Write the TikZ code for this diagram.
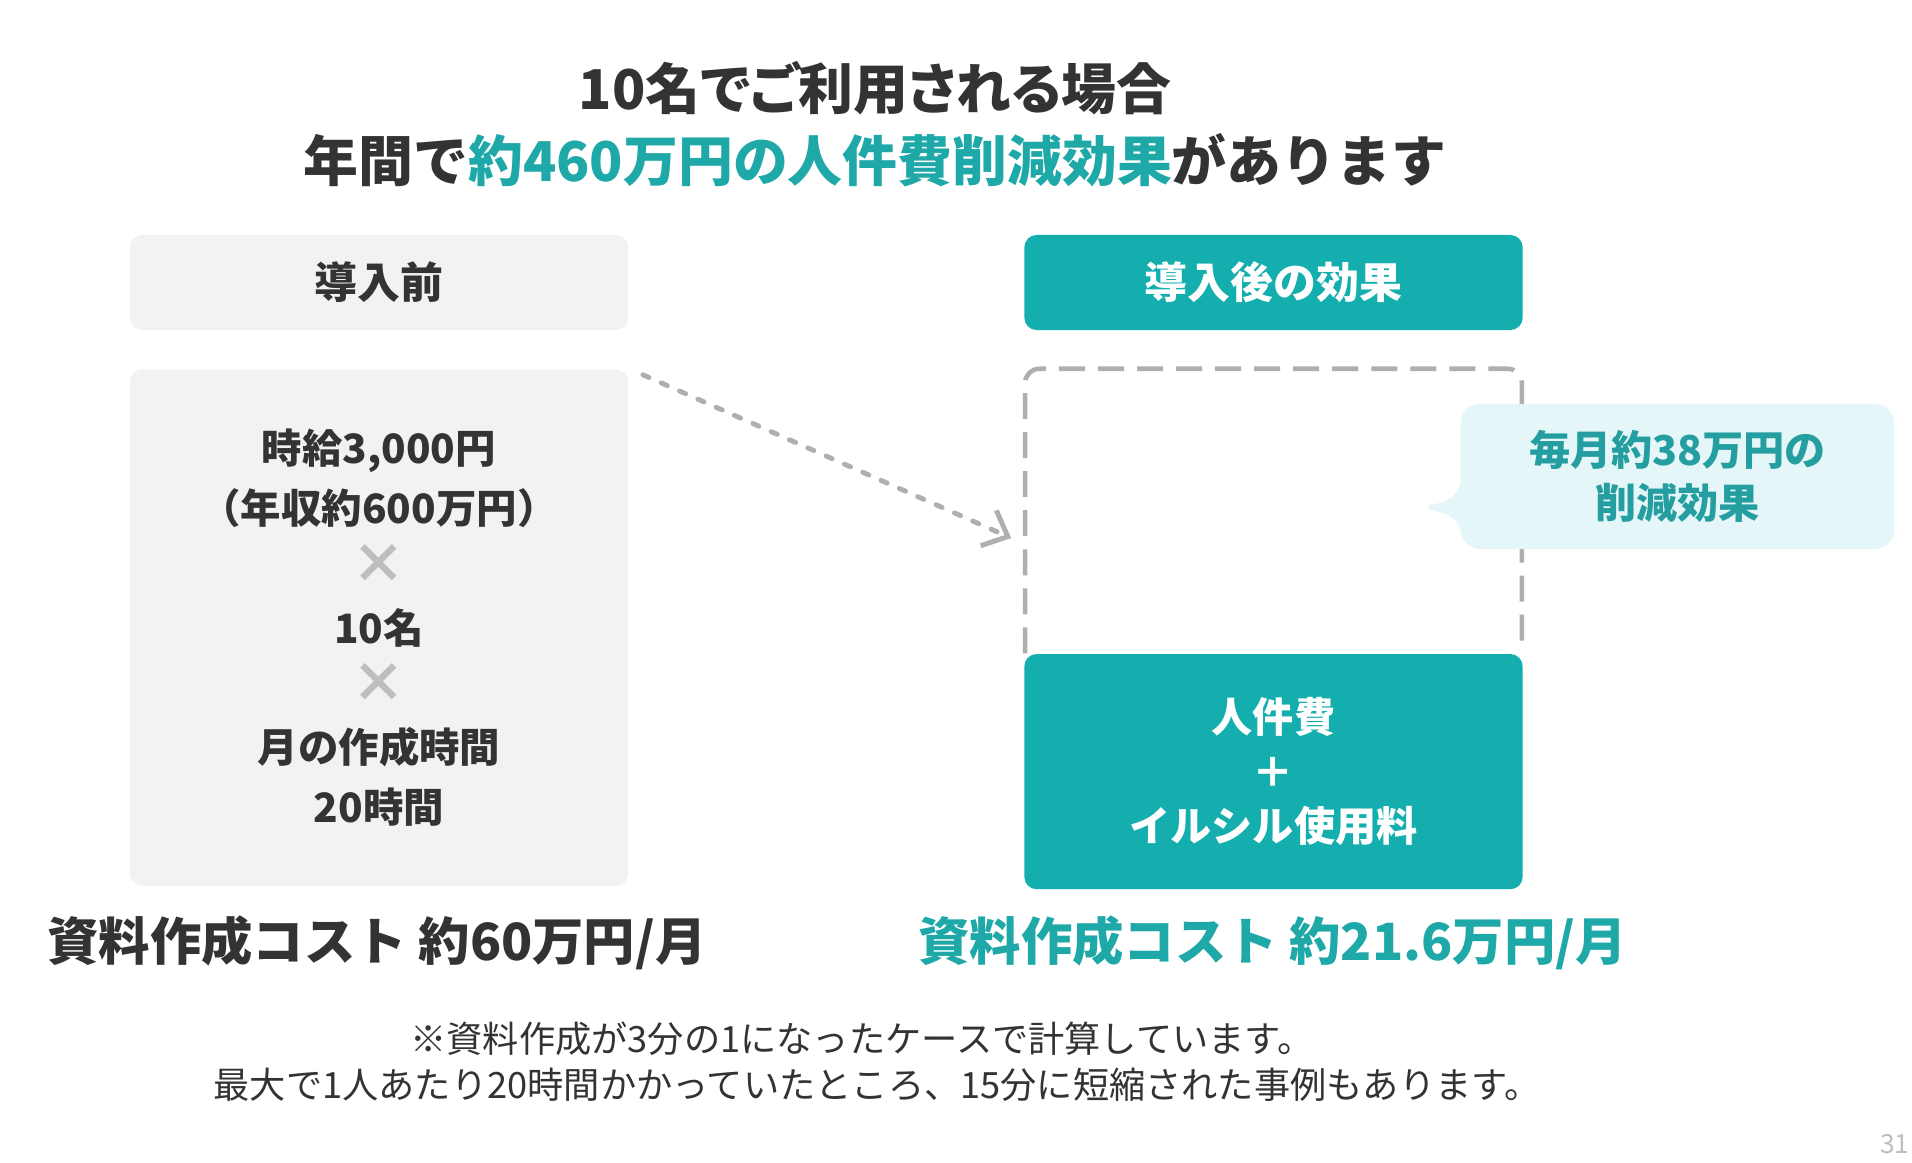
\documentclass[tikz,border=0pt]{standalone}
\usepackage{fontspec}
\setmainfont{Noto Sans CJK JP}
\usetikzlibrary{arrows.meta, positioning, calc}
\definecolor{colText}{RGB}{51,51,51}
\definecolor{colTeal}{RGB}{20,174,174}
\definecolor{colTealText}{RGB}{30,168,168}
\definecolor{colPanel}{RGB}{242,242,242}
\definecolor{colBubble}{RGB}{228,246,247}
\definecolor{colBubbleText}{RGB}{36,158,160}
\definecolor{colDash}{RGB}{175,175,175}
\definecolor{colCross}{RGB}{190,190,190}
\definecolor{colPage}{RGB}{190,190,190}
\newcommand{\crossMark}{{\fontsize{15.5}{17}\selectfont\color{colCross}×}}
\tikzset{
  box/.style={
    rectangle, rounded corners=3.5pt,
    inner sep=0pt, align=center,
    font=\fontsize{11.5}{17}\selectfont\bfseries
  },
  headBox/.style={
    box, minimum width=4.98cm, minimum height=0.95cm,
    font=\fontsize{12.2}{14}\selectfont\bfseries
  },
  beforeHead/.style={headBox, fill=colPanel, text=colText},
  afterHead/.style={headBox, fill=colTeal, text=white},
  beforeBox/.style={
    box, fill=colPanel, text=colText,
    minimum width=4.98cm, minimum height=5.16cm
  },
  afterBox/.style={
    box, fill=colTeal, text=white,
    minimum width=4.98cm, minimum height=2.35cm,
    font=\fontsize{11.7}{15.4}\selectfont\bfseries
  },
  savedBox/.style={
    rectangle, inner sep=0pt,
    minimum width=4.95cm, minimum height=2.83cm
  },
  bubble/.style={
    rectangle, rounded corners=5.5pt,
    fill=colBubble, text=colBubbleText,
    minimum width=4.33cm, minimum height=1.45cm,
    align=center, font=\fontsize{11.7}{15}\selectfont\bfseries
  },
  dashLine/.style={
    draw=colDash, line width=1.3pt,
    dash pattern=on 7.4pt off 3.7pt, rounded corners=4pt
  },
  arr/.style={
    -{Straight Barb[length=6pt, width=11pt]},
    draw=colDash, line width=1.4pt, line cap=round,
    dash pattern=on 1.9pt off 3.8pt
  },
  titleText/.style={
    font=\fontsize{15.6}{20.5}\selectfont\bfseries,
    text=colText, align=center
  },
  costText/.style={font=\fontsize{14.6}{17}\selectfont\bfseries},
  noteText/.style={
    font=\fontsize{10.3}{13.1}\selectfont,
    text=colText, align=center
  },
  pageText/.style={font=\fontsize{7.5}{8}\selectfont, text=colPage, inner sep=0pt}
}

\begin{document}
\begin{tikzpicture}[x=0.01cm, y=-0.01cm]

  \useasboundingbox (0,0) rectangle (1912,1162);
  \fill[white] (0,0) rectangle (1912,1162);

  % title
  \node[titleText] (title) at (875,124)
    {{\addfontfeature{RawFeature=+palt}10名でご利用される場合}\\年間で\textcolor{colTealText}{約460万円の人件費削減効果}があります};

  % before
  \node[beforeHead] (before) at (379,282.5) {導入前};
  \node[beforeBox, below=0.38cm of before] (beforeBody)
    {時給3,000円\\（年収約600万円）\\\crossMark\\10名\\\crossMark\\月の作成時間\\20時間};

  % after
  \node[afterHead] (after) at (1273.5,282.5) {導入後の効果};
  \node[savedBox, below=0.38cm of after] (saved) {};
  \draw[dashLine] (saved.south west) -- (saved.north west) -- (saved.north east) -- (saved.south east);
  \node[afterBox, below=0pt of saved] (afterBody) {人件費\\＋\\イルシル使用料};

  % saving bubble
  \node[bubble] (saving) at (1677.5,476.5) {毎月約38万円の\\削減効果};
  \fill[colBubble] ($(saving.west)+(2,-4)$)
    .. controls ($(saving.west)+(2,20)$) and ($(saving.west)+(-14,26)$) .. ($(saving.west)+(-28,28)$)
    .. controls ($(saving.west)+(-34,29)$) and ($(saving.west)+(-34,33)$) .. ($(saving.west)+(-28,34)$)
    .. controls ($(saving.west)+(-14,36)$) and ($(saving.west)+(2,42)$) .. ($(saving.west)+(2,64)$) -- cycle;

  % before -> after
  \coordinate (arrowFrom) at ($(beforeBody.north east)+(14,6)$);
  \coordinate (arrowTo) at ($(saved.west)+(-14,27)$);
  \draw[arr] (arrowFrom) -- (arrowTo);

  % cost per month
  \node[costText, text=colText] (costBefore) at (377,943) {資料作成コスト 約60万円/月};
  \node[costText, text=colTealText] (costAfter) at (1272.5,943) {資料作成コスト 約21.6万円/月};

  % note
  \node[noteText] (note) at (862,1062)
    {※資料作成が3分の1になったケースで計算しています。\\\hspace*{0.3cm}最大で1人あたり20時間かかっていたところ、15分に短縮された事例もあります。};

  \node[pageText, anchor=east] (page) at (1910,1144) {31};

\end{tikzpicture}
\end{document}
